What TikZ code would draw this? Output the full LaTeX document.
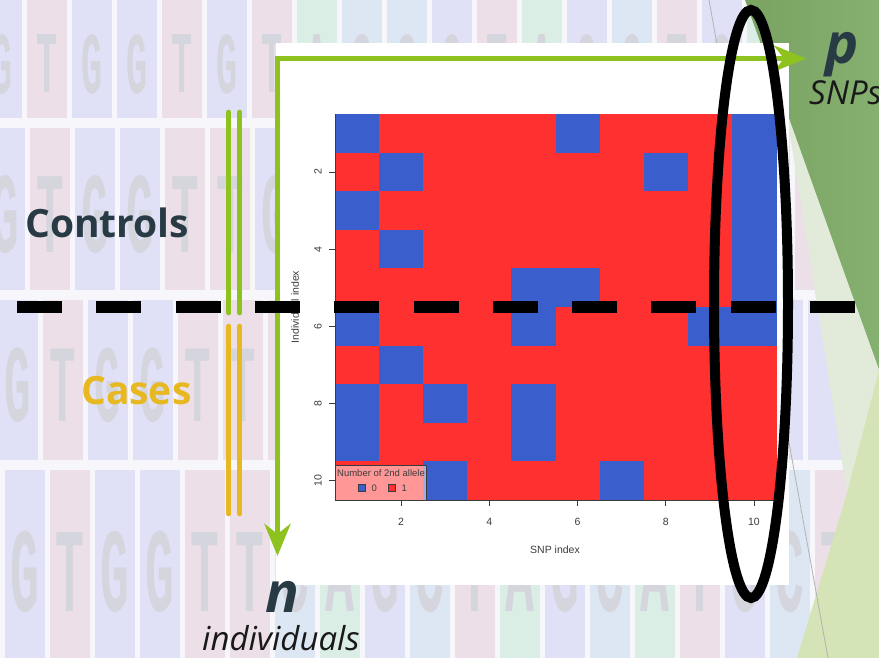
\documentclass[tikz,border=0pt]{standalone}
\usepackage{fontspec}
\usetikzlibrary{arrows.meta,positioning}

\newfontfamily\slidefont{Open Sans}
\newfontfamily\plotfont{Liberation Sans}
\newfontfamily\dnafont{Liberation Mono}

\definecolor{snpblue}{RGB}{58,95,205}
\definecolor{snpred}{RGB}{255,48,48}
\definecolor{snpgreen}{RGB}{141,194,31}
\definecolor{snpgold}{RGB}{232,184,32}
\definecolor{slate}{RGB}{40,58,68}
\definecolor{axisgray}{RGB}{60,60,60}
\definecolor{bgbase}{RGB}{246,246,251}
\definecolor{cellbase}{RGB}{236,237,247}
\definecolor{leafA}{RGB}{122,163,98}
\definecolor{leafB}{RGB}{134,176,112}
\definecolor{paleleaf}{RGB}{226,234,218}
\definecolor{springleaf}{RGB}{212,228,182}

\tikzset{
  cell0/.style={fill=snpblue},
  cell1/.style={fill=snpred},
  dnaG/.style={fill=blue!5!cellbase},
  dnaT/.style={fill=red!6!cellbase},
  dnaA/.style={fill=green!7!cellbase},
  dnaC/.style={fill=cyan!7!cellbase},
  dnalet/.style={text=gray!22!cellbase, inner sep=0},
  axisline/.style={draw=axisgray, line width=0.7},
  ticklab/.style={font=\plotfont\fontsize{10.5}{10.5}\selectfont, text=axisgray, inner sep=0},
  legtxt/.style={font=\plotfont\fontsize{9.5}{9.5}\selectfont, text=axisgray, inner sep=0},
  legkey/.style={draw=axisgray, line width=0.6, minimum size=7pt, inner sep=0},
  legbox/.style={draw=axisgray, line width=0.6, fill=white, fill opacity=0.5, minimum width=91pt, minimum height=35pt, inner sep=0},
  axisarrow/.style={draw=snpgreen, line width=5.5,
    {Stealth[length=32pt,width=26pt,inset=10pt]}-{Stealth[length=32pt,width=26pt,inset=10pt]}},
  bar/.style={line width=4.6, line cap=round},
  cut/.style={line width=11.5, dash pattern=on 45pt off 34.3pt},
  grouplab/.style={font=\slidefont\bfseries\fontsize{39}{39}\selectfont, anchor=base west, inner sep=0},
  bigvar/.style={font=\slidefont\bfseries\itshape\fontsize{56}{56}\selectfont, text=slate, anchor=base, inner sep=0},
  smallvar/.style={font=\slidefont\itshape\fontsize{33}{33}\selectfont, text=black!90, inner sep=0}
}

\begin{document}
\begin{tikzpicture}[x=1pt, y=-1pt]
\useasboundingbox (0,0) rectangle (879,658);

\fill[bgbase] (0,0) rectangle (879,658);

\foreach \r/\top/\h/\cy/\fs/\off/\seq in {
    1/-5/123/64/88/2/{G,T,G,G,T,G,T,A,C,C,G,T,A,G,C,T,G,A,C},
    2/128/162/215/115/5/{G,T,G,G,T,T,G,C,A,C,T,G,A,T,G,C,A,G,T},
    3/300/160/385/110/18/{G,T,G,G,T,T,T,A,C,G,T,C,A,G,T,A,C,G,G},
    4/470/200/572/120/25/{G,T,G,G,T,T,C,A,G,C,T,A,G,C,A,T,G,C,T}} {
  \foreach \ch [count=\k from 0] in \seq {
    \fill[dna\ch] ({\off+45*\k-20},\top) rectangle ++(40,\h);
    \pgfmathtruncatemacro\hide{(\r>1)*(\r<4)*(\off+45*\k>300)}
    \ifnum\hide=0
      \node[dnalet, font=\dnafont\bfseries\fontsize{\fs}{\fs}\selectfont] (l\r-\k) at ({\off+45*\k},\cy) {\scalebox{0.4}[1]{\ch}};
    \fi
  }
}

\shade[left color=leafA, right color=leafB] (745,0) -- (879,0) -- (879,370) -- cycle;

\fill[paleleaf] (786,110) -- (879,370) -- (847,493) -- cycle;

\fill[springleaf] (847,493) -- (879,370) -- (879,658) -- (797,658) -- cycle;

\draw[gray!60, line width=0.8] (709,0) -- (828,658);

\fill[white] (276,43) rectangle (789,585);

\foreach \row [count=\i] in {
    {0,1,1,1,1,0,1,1,1,0},
    {1,0,1,1,1,1,1,0,1,0},
    {0,1,1,1,1,1,1,1,1,0},
    {1,0,1,1,1,1,1,1,1,0},
    {1,1,1,1,0,0,1,1,1,0},
    {0,1,1,1,0,1,1,1,0,0},
    {1,0,1,1,1,1,1,1,1,1},
    {0,1,0,1,0,1,1,1,1,1},
    {0,1,1,1,0,1,1,1,1,1},
    {1,1,0,1,1,1,0,1,1,1}} {
  \foreach \v [count=\j] in \row
    \fill[cell\v] ({335+(\j-1)*44.1},{114+(\i-1)*38.6}) rectangle ++(44.6,39.1);
}

\draw[axisline] (335,114) -- (335,500) -- (776,500);

\foreach \k in {2,4,6,8,10} {
  \draw[axisline] (329,{114+(\k-0.5)*38.6}) -- (335,{114+(\k-0.5)*38.6});
  \node[ticklab, rotate=90] (yt\k) at (318,{114+(\k-0.5)*38.6}) {\k};
  \draw[axisline] ({335+(\k-0.5)*44.1},500) -- ({335+(\k-0.5)*44.1},506);
  \node[ticklab] (xt\k) at ({335+(\k-0.5)*44.1},522) {\k};
}

\node[ticklab, rotate=90] (ylab) at (295,307) {Individual index};

\node[ticklab] (xlab) at (555,550) {SNP index};

\node[legbox] (leg) at (380.5,482.5) {};

\node[legtxt] (legt) at (381,473) {Number of 2nd allele};

\node[legkey, fill=snpblue] (k0) at (361.5,488) {};

\node[legtxt, right=6pt of k0] (k0t) {0};

\node[legkey, fill=snpred] (k1) at (391.5,488) {};

\node[legtxt, right=6pt of k1] (k1t) {1};

\coordinate (o) at (277.5,58.5);
\coordinate (pend) at (806,58.5);
\coordinate (nend) at (277.5,556);

\draw[axisarrow] (pend) -- (o) -- (nend);

\foreach \dx in {228.7,239.7} {
  \draw[bar, draw=snpgreen] (\dx,112) -- (\dx,313);
  \draw[bar, draw=snpgold] (\dx,326) -- (\dx,514);
}

\draw[cut] (17,307) -- (855,307);

\draw[line width=10] (751,304) ellipse [x radius=37pt, y radius=294pt];

\node[grouplab, text=slate] (ctrl) at (25,237) {Controls};

\node[grouplab, text=snpgold] (cases) at (81,404) {Cases};

\node[bigvar] (p0) at (842,64) {p};

\node[smallvar, anchor=base west] (p1) at (809,105) {SNPs};

\node[bigvar] (n0) at (282,612) {n};

\node[smallvar, anchor=base] (n1) at (281,650) {individuals};

\end{tikzpicture}
\end{document}
